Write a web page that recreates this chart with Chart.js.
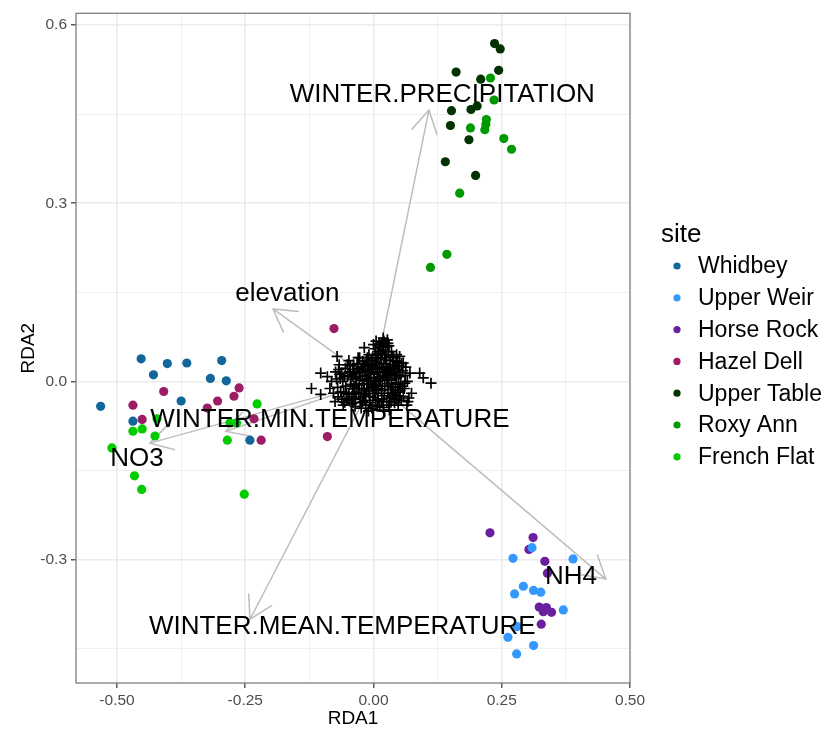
<!DOCTYPE html>
<html>
<head>
<meta charset="utf-8">
<script src="https://cdn.jsdelivr.net/npm/chart.js@4/dist/chart.umd.min.js"></script>
<style>
  body { margin: 0; background: #fff; }
  canvas { display: block; }
</style>
</head>
<body>
<canvas id="rdaChart" width="828" height="731"></canvas>
<script>
// site scores
const siteNames = ['Whidbey', 'Upper Weir', 'Horse Rock', 'Hazel Dell', 'Upper Table', 'Roxy Ann', 'French Flat'];
const siteColors = ['#12679a', '#3399ff', '#6a1f9e', '#9c1d66', '#003300', '#009a00', '#00cc00'];

const whidbey = [[-0.453, 0.038], [-0.429, 0.011], [-0.402, 0.030], [-0.364, 0.031], [-0.296, 0.035], [-0.318, 0.005],
    [-0.287, 0.001], [-0.375, -0.033], [-0.532, -0.042], [-0.469, -0.067], [-0.241, -0.099]];
const upperWeir = [[0.309, -0.280], [0.272, -0.298], [0.389, -0.299], [0.292, -0.345], [0.275, -0.358], [0.312, -0.352],
    [0.326, -0.355], [0.370, -0.385], [0.280, -0.413], [0.262, -0.431], [0.312, -0.445], [0.279, -0.459]];
const horseRock = [[0.227, -0.255], [0.311, -0.263], [0.303, -0.283], [0.334, -0.303], [0.339, -0.323], [0.323, -0.380],
    [0.331, -0.388], [0.337, -0.381], [0.347, -0.389], [0.329, -0.383], [0.327, -0.409]];
const hazelDell = [[-0.077, 0.089], [-0.409, -0.017], [-0.262, -0.011], [-0.304, -0.033], [-0.272, -0.025], [-0.469, -0.040],
    [-0.324, -0.045], [-0.451, -0.064], [-0.233, -0.063], [-0.219, -0.099], [-0.090, -0.093]];
const upperTable = [[0.236, 0.569], [0.247, 0.560], [0.161, 0.521], [0.209, 0.509], [0.244, 0.524], [0.152, 0.456],
    [0.190, 0.458], [0.202, 0.464], [0.150, 0.431], [0.186, 0.407], [0.140, 0.370], [0.199, 0.347]];
const roxyAnn = [[0.228, 0.511], [0.235, 0.474], [0.220, 0.441], [0.219, 0.433], [0.217, 0.424], [0.189, 0.427],
    [0.254, 0.409], [0.269, 0.391], [0.168, 0.317], [0.143, 0.214], [0.111, 0.192]];
const frenchFlat = [[-0.227, -0.038], [-0.422, -0.063], [-0.469, -0.084], [-0.451, -0.080], [-0.426, -0.092], [-0.510, -0.112],
    [-0.285, -0.099], [-0.466, -0.159], [-0.452, -0.182], [-0.252, -0.190], [-0.280, -0.070], [-0.267, -0.070]];
const siteScores = [whidbey, upperWeir, horseRock, hazelDell, upperTable, roxyAnn, frenchFlat];

// species scores (the + cloud round the origin)
const speciesScores = [
    [-0.018, 0.057], [-0.103, 0.014], [-0.121, -0.012], [-0.103, -0.022], [-0.071, 0.042], [-0.067, 0.028],
    [-0.062, 0.014], [-0.075, -0.034], [-0.056, -0.035], [-0.040, -0.036], [-0.082, 0.000], [0.019, 0.073],
    [0.028, 0.064], [0.019, 0.053], [0.051, 0.042], [0.058, 0.031], [0.071, 0.014], [0.090, 0.014],
    [0.097, 0.006], [0.112, -0.003], [0.061, -0.003], [0.074, -0.020], [0.067, -0.034], [0.051, -0.028],
    [0.042, 0.022],
    [-0.050, 0.010], [-0.045, -0.005], [-0.040, 0.020], [-0.038, -0.020], [-0.035, 0.005], [-0.032, 0.030],
    [-0.030, -0.012], [-0.028, 0.015], [-0.025, -0.028], [-0.022, 0.002], [-0.020, 0.025], [-0.018, -0.015],
    [-0.016, 0.010], [-0.014, 0.035], [-0.012, -0.005], [-0.010, 0.018], [-0.008, -0.025], [-0.006, 0.006],
    [-0.004, 0.028], [-0.002, -0.010], [0.000, 0.012], [0.002, -0.020], [0.004, 0.022], [0.006, 0.000],
    [0.008, 0.040], [0.010, -0.012], [0.012, 0.015], [0.014, 0.050], [0.016, -0.030], [0.018, 0.008],
    [0.020, 0.030], [0.022, -0.008], [0.024, 0.045], [0.026, 0.018], [0.028, -0.020], [0.030, 0.002],
    [0.032, 0.035], [0.034, -0.035], [0.036, 0.012], [0.038, -0.010], [0.040, 0.025], [0.042, -0.022],
    [0.045, 0.005], [0.048, -0.040], [0.050, 0.015],
    [-0.058, -0.018], [-0.055, 0.022], [-0.052, -0.030], [-0.048, 0.035], [-0.043, -0.038], [-0.036, -0.042],
    [-0.027, 0.040], [-0.024, -0.045], [-0.015, -0.040], [-0.009, 0.045], [-0.003, -0.045], [0.003, 0.055],
    [0.007, -0.042], [0.011, 0.062], [0.015, 0.038], [0.019, -0.044], [0.023, 0.058], [0.027, 0.070],
    [0.031, -0.048], [0.035, 0.050], [0.039, 0.040], [0.044, -0.030], [0.052, -0.015], [0.055, 0.030],
    [0.058, -0.025], [0.062, 0.010], [0.065, -0.040], [-0.065, 0.005], [-0.070, -0.010], [-0.062, -0.030],
    [-0.068, 0.020], [-0.078, -0.020], [-0.085, -0.012], [-0.090, 0.008],
    [0.000, 0.000], [-0.010, 0.000], [0.010, 0.005], [0.005, -0.005], [-0.005, 0.015], [0.015, -0.015],
    [0.025, 0.025], [-0.020, -0.025], [0.035, -0.020], [-0.035, -0.030], [0.045, 0.045], [0.020, -0.050],
    [-0.010, -0.050], [0.030, 0.060], [0.015, 0.065], [0.005, 0.068], [0.000, 0.062], [0.020, 0.068],
    [-0.044, 0.004], [-0.041, -0.012], [-0.037, 0.013], [-0.033, -0.004], [-0.031, 0.022], [-0.029, -0.021],
    [-0.026, 0.008], [-0.023, -0.012], [-0.021, 0.017], [-0.019, -0.004], [-0.017, 0.028], [-0.015, -0.022],
    [-0.013, 0.004], [-0.011, 0.026], [-0.009, -0.016], [-0.007, 0.012], [-0.005, -0.004], [-0.003, 0.020],
    [-0.001, -0.027], [0.001, 0.006], [0.003, 0.030], [0.005, -0.014], [0.007, 0.016], [0.009, -0.030],
    [0.011, 0.024], [0.013, 0.002], [0.015, 0.030], [0.017, -0.008], [0.019, 0.020], [0.021, -0.024],
    [0.023, 0.010], [0.025, 0.036], [0.027, -0.004], [0.029, 0.022], [0.031, -0.028], [0.033, 0.014],
    [0.035, -0.004], [0.037, 0.028], [0.039, -0.024], [0.041, 0.010], [0.043, -0.010], [0.046, 0.020],
    [0.049, -0.005], [0.053, 0.008], [0.056, -0.008], [0.047, 0.032], [-0.046, 0.016], [-0.042, -0.026],
    [-0.039, 0.028], [-0.034, -0.018], [-0.030, 0.040], [-0.026, -0.036], [-0.021, 0.034], [-0.017, -0.032],
    [-0.012, 0.040], [-0.007, -0.036], [-0.002, 0.040], [0.004, -0.032], [0.008, 0.050], [0.012, -0.040],
    [0.017, 0.046], [0.022, 0.040], [0.026, -0.034], [0.029, 0.050], [0.033, -0.014], [0.037, 0.042],
    [0.041, -0.036], [0.044, 0.034], [-0.060, 0.000], [-0.054, -0.008], [-0.048, -0.022], [-0.051, 0.028],
    [0.018, 0.058], [0.013, 0.058], [0.024, 0.064], [0.009, 0.046], [0.004, 0.044], [-0.004, 0.036],
    [-0.064, -0.018], [-0.066, 0.012], [-0.057, 0.008], [-0.053, -0.020], [-0.059, -0.040], [-0.047, -0.032],
    [-0.045, 0.026], [-0.040, 0.008], [-0.038, -0.008], [-0.033, 0.016], [-0.028, -0.006], [-0.024, 0.022],
    [-0.021, -0.034], [-0.016, 0.020], [-0.013, -0.012], [-0.008, 0.030], [-0.006, -0.040], [-0.001, 0.026],
    [0.002, -0.008], [0.006, 0.034], [0.009, -0.020], [0.012, 0.008], [0.016, 0.022], [0.019, -0.034],
    [0.022, 0.016], [0.026, 0.006], [0.030, -0.040], [0.033, 0.024], [0.036, -0.028], [0.040, 0.016],
    [0.043, -0.002], [0.047, -0.018], [0.050, 0.026], [0.054, -0.032], [0.057, 0.018], [0.060, -0.012],
    [0.063, 0.024], [0.066, 0.000], [0.069, -0.028], [-0.072, 0.004], [-0.069, -0.026], [-0.074, 0.016]
];

// environmental vectors: arrow tips and label positions
const envNames = ['WINTER.PRECIPITATION', 'elevation', 'WINTER.MIN.TEMPERATURE', 'NO3', 'WINTER.MEAN.TEMPERATURE', 'NH4'];
const envTips = [[0.108, 0.457], [-0.196, 0.122], [-0.288, -0.084], [-0.436, -0.104], [-0.241, -0.401], [0.453, -0.333]];
const envLabels = [[0.134, 0.483], [-0.168, 0.147], [-0.085, -0.064], [-0.461, -0.131], [-0.061, -0.414], [0.385, -0.330]];

const xTicks = [-0.5, -0.375, -0.25, -0.125, 0, 0.125, 0.25, 0.375, 0.5];
const yTicks = [-0.45, -0.3, -0.15, 0, 0.15, 0.3, 0.45, 0.6];
const xRange = [-0.58, 0.50];
const yRange = [-0.508, 0.62];

const FONT = "'Liberation Sans', Arial, sans-serif";

function isMajor(v, step) {
    return Math.abs(v / step - Math.round(v / step)) < 1e-6;
}

// arrows under the points, labels and legend on top
const arrowPlugin = {
    id: 'arrows',
    beforeDatasetsDraw(chart) {
        const {ctx, scales: {x, y}} = chart;
        const x0 = x.getPixelForValue(0), y0 = y.getPixelForValue(0);
        ctx.save();
        ctx.strokeStyle = '#bdbdbd';
        ctx.lineWidth = 1.5;
        envTips.forEach(t => {
            const tx = x.getPixelForValue(t[0]), ty = y.getPixelForValue(t[1]);
            const ang = Math.atan2(y0 - ty, x0 - tx);
            const len = 26, spread = Math.PI / 6;
            ctx.beginPath();
            ctx.moveTo(x0, y0);
            ctx.lineTo(tx, ty);
            ctx.moveTo(tx + len * Math.cos(ang - spread), ty + len * Math.sin(ang - spread));
            ctx.lineTo(tx, ty);
            ctx.lineTo(tx + len * Math.cos(ang + spread), ty + len * Math.sin(ang + spread));
            ctx.stroke();
        });
        ctx.restore();
    },
    afterDatasetsDraw(chart) {
        const {ctx, scales: {x, y}} = chart;
        ctx.save();
        ctx.fillStyle = '#000';
        ctx.font = '26px ' + FONT;
        ctx.textAlign = 'center';
        ctx.textBaseline = 'middle';
        envNames.forEach((name, i) => {
            ctx.fillText(name, x.getPixelForValue(envLabels[i][0]), y.getPixelForValue(envLabels[i][1]));
        });
        ctx.restore();
    },
    afterDraw(chart) {
        const {ctx, chartArea: a} = chart;
        ctx.save();
        // panel border
        ctx.strokeStyle = '#7f7f7f';
        ctx.lineWidth = 1.3;
        ctx.strokeRect(a.left, a.top, a.right - a.left, a.bottom - a.top);
        // legend
        ctx.fillStyle = '#000';
        ctx.textBaseline = 'middle';
        ctx.textAlign = 'left';
        ctx.font = '26px ' + FONT;
        ctx.fillText('site', 661, 235);
        ctx.font = '23px ' + FONT;
        siteNames.forEach((name, i) => {
            const cy = 266 + i * 31.8;
            ctx.fillStyle = siteColors[i];
            ctx.beginPath();
            ctx.arc(677, cy, 3.6, 0, Math.PI * 2);
            ctx.fill();
            ctx.fillStyle = '#000';
            ctx.fillText(name, 698, cy + 1);
        });
        ctx.restore();
    }
};

const datasets = siteNames.map((name, i) => ({
    label: name,
    data: siteScores[i].map(p => ({x: p[0], y: p[1]})),
    backgroundColor: siteColors[i],
    borderWidth: 0,
    pointRadius: 4.6,
    order: 2
}));
datasets.push({
    label: 'species',
    data: speciesScores.map(p => ({x: p[0], y: p[1]})),
    pointStyle: 'cross',
    pointRadius: 5.5,
    borderColor: '#000',
    borderWidth: 1.7,
    order: 1
});

function axisOptions(ticks, range, step, digits, title, pos) {
    return {
        type: 'linear',
        position: pos,
        min: range[0],
        max: range[1],
        afterBuildTicks: scale => { scale.ticks = ticks.map(v => ({value: v})); },
        afterFit: scale => {
            if (pos === 'left') scale.width = 76;
            else scale.height = 48;
        },
        border: {display: false},
        grid: {
            color: '#ebebeb',
            lineWidth: ctx => (ctx.tick && isMajor(ctx.tick.value, step)) ? 1.6 : 0.8,
            tickColor: ctx => (ctx.tick && isMajor(ctx.tick.value, step)) ? '#333333' : 'rgba(0,0,0,0)',
            tickLength: 5,
            tickWidth: 1.2
        },
        ticks: {
            autoSkip: false,
            maxRotation: 0,
            padding: pos === 'left' ? 4 : 3,
            color: '#4d4d4d',
            font: {family: FONT, size: 15.5},
            callback: v => isMajor(v, step) ? v.toFixed(digits) : ''
        },
        title: {
            display: true,
            text: title,
            color: '#000',
            font: {family: FONT, size: 19},
            padding: pos === 'left' ? {top: 17, bottom: 0} : {top: 0, bottom: 1}
        }
    };
}

new Chart(document.getElementById('rdaChart'), {
    type: 'scatter',
    data: {datasets: datasets},
    options: {
        responsive: false,
        animation: false,
        layout: {padding: {top: 10, right: 198, left: 0, bottom: 0}},
        plugins: {
            legend: {display: false},
            tooltip: {enabled: false}
        },
        scales: {
            x: axisOptions(xTicks, xRange, 0.25, 2, 'RDA1', 'bottom'),
            y: axisOptions(yTicks, yRange, 0.3, 1, 'RDA2', 'left')
        }
    },
    plugins: [arrowPlugin]
});
</script>
</body>
</html>
